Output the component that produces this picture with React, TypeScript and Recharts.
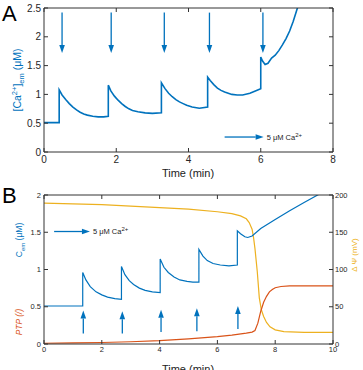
import React from "react";
import { ComposedChart, Line, XAxis, YAxis, ReferenceLine, Label } from "recharts";

const BLUE = "#0072BD";
const ORANGE = "#D95319";
const YELLOW = "#EDB120";
const AXIS = "#333333";
const FONT = "'Liberation Sans', Arial, sans-serif";

// panel A: measured extramitochondrial Ca2+ (uM) vs time (min)
const aTime = [
  0, 0.2, 0.42, 0.42, 0.5, 0.6, 0.7, 0.8, 0.9, 1.0, 1.1, 1.2, 1.35, 1.5, 1.65, 1.78,
  1.78, 1.85, 1.95, 2.05, 2.15, 2.25, 2.35, 2.45, 2.6, 2.8, 3.0, 3.25,
  3.25, 3.35, 3.45, 3.55, 3.65, 3.75, 3.85, 3.95, 4.1, 4.3, 4.53,
  4.53, 4.6, 4.7, 4.8, 4.9, 5.0, 5.1, 5.2, 5.35, 5.5, 5.7, 5.85, 6.0,
  6.0, 6.05, 6.12, 6.2, 6.3, 6.4, 6.5, 6.6, 6.7, 6.8, 6.9, 7.0, 7.1,
];
const aCa = [
  0.51, 0.51, 0.51, 1.08, 0.99, 0.91, 0.84, 0.78, 0.73, 0.69, 0.66, 0.64, 0.62, 0.61, 0.61, 0.62,
  1.16, 1.06, 0.97, 0.9, 0.84, 0.79, 0.75, 0.72, 0.7, 0.68, 0.67, 0.68,
  1.2, 1.1, 1.02, 0.96, 0.91, 0.87, 0.84, 0.81, 0.78, 0.76, 0.78,
  1.3, 1.24, 1.17, 1.11, 1.07, 1.04, 1.02, 1.0, 0.99, 0.99, 1.02, 1.06, 1.1,
  1.65, 1.58, 1.52, 1.54, 1.63, 1.68, 1.76, 1.86, 1.97, 2.1, 2.27, 2.47, 2.66,
];
const aTicksX = [0, 2, 4, 6, 8];
const aTicksY = [0, 0.5, 1, 1.5, 2, 2.5];
const aPulseT = [0.5, 1.86, 3.33, 4.58, 6.06];
const aPulseTop = 2.42;
const aPulseTip = 1.72;

// panel B: model
const bTime = [
  0, 1.34, 1.34, 1.45, 1.6, 1.8, 2.0, 2.2, 2.45, 2.68,
  2.68, 2.8, 2.95, 3.1, 3.3, 3.5, 3.75, 4.02,
  4.02, 4.15, 4.3, 4.5, 4.7, 4.95, 5.15, 5.36,
  5.36, 5.5, 5.65, 5.85, 6.1, 6.4, 6.69,
  6.69, 6.8, 6.95, 7.05, 7.2, 7.5, 8.0, 8.5, 9.0, 9.47, 10,
];
const bCem = [
  0.51, 0.51, 0.96, 0.86, 0.77, 0.7, 0.66, 0.63, 0.61, 0.6,
  1.04, 0.93, 0.85, 0.8, 0.75, 0.72, 0.7, 0.69,
  1.14, 1.03, 0.96, 0.9, 0.86, 0.84, 0.83, 0.83,
  1.27, 1.18, 1.12, 1.08, 1.06, 1.05, 1.06,
  1.52, 1.48, 1.44, 1.43, 1.45, 1.55, 1.67, 1.79, 1.9, 2.0, 2.11,
];
const ptpTime = [0, 1, 2, 3, 4, 5, 6, 6.5, 7.0, 7.2, 7.3, 7.4, 7.5, 7.6, 7.7, 7.8, 7.9, 8.0, 8.2, 8.5, 10];
const ptp = [0.01, 0.015, 0.02, 0.03, 0.045, 0.07, 0.1, 0.12, 0.145, 0.16, 0.18, 0.28, 0.44, 0.56, 0.64, 0.7, 0.73, 0.755, 0.772, 0.78, 0.78];
const psiTime = [0, 1, 2, 3, 4, 5, 6, 6.5, 6.8, 7.0, 7.1, 7.2, 7.25, 7.3, 7.38, 7.45, 7.52, 7.6, 7.7, 7.82, 8.0, 8.3, 9, 10];
const psi = [189, 188, 187, 185, 183, 181, 177.5, 175, 172, 168, 163, 154, 143, 128, 97, 62, 46, 37, 29, 23, 19, 16.5, 15.5, 15.5];
const bTicksX = [0, 2, 4, 6, 8, 10];
const bTicksL = [0, 0.5, 1, 1.5, 2];
const bTicksR = [0, 50, 100, 150, 200];
const bPulseT = [1.36, 2.71, 4.05, 5.29, 6.71];
const bPulseBase = [0.14, 0.14, 0.16, 0.17, 0.2];
const bPulseTip = [0.45, 0.44, 0.46, 0.48, 0.51];

const zip = (ts: number[], vs: number[]) => ts.map((t, i) => ({ t, v: vs[i] }));
const aData = zip(aTime, aCa);
const cemData = zip(bTime, bCem);
const ptpData = zip(ptpTime, ptp);
const psiData = zip(psiTime, psi);

// plot boxes (must match the chart margins / axis sizes below)
const boxA = { x: 44, y: 8, w: 289, h: 144 };
const boxB = { x: 44, y: 195, w: 289, h: 149 };

const arrow = (color: string, text?: string) => (p: any) => {
  const { x1, y1, x2, y2 } = p;
  const len = Math.hypot(x2 - x1, y2 - y1) || 1;
  const ux = (x2 - x1) / len;
  const uy = (y2 - y1) / len;
  const head = 8;
  const half = 2.8;
  const bx = x2 - ux * head;
  const by = y2 - uy * head;
  return (
    <g>
      <line x1={x1} y1={y1} x2={bx} y2={by} stroke={color} strokeWidth={1.3} />
      <polygon
        points={`${x2},${y2} ${bx - uy * half},${by + ux * half} ${bx + uy * half},${by - ux * half}`}
        fill={color}
      />
      {text && (
        <text x={x2 + 3} y={y2 + 2.5} fontSize={7.5} fill="#222" fontFamily={FONT}>
          {text}
          <tspan dy={-3} fontSize={6}>2+</tspan>
        </text>
      )}
    </g>
  );
};

const tickStyle = (size: number) => ({ fontSize: size, fill: "#262626", fontFamily: FONT });

// top/right edges of the box with inward ticks
function Frame() {
  return (
    <svg width={363} height={370} style={{ position: "absolute", left: 0, top: 0, pointerEvents: "none" }}>
      <g stroke={AXIS} strokeWidth={1} fill="none">
        <line x1={boxA.x} y1={boxA.y} x2={boxA.x + boxA.w} y2={boxA.y} />
        <line x1={boxA.x + boxA.w} y1={boxA.y} x2={boxA.x + boxA.w} y2={boxA.y + boxA.h} />
        {aTicksX.map((t) => {
          const x = boxA.x + (t / 8) * boxA.w;
          return <line key={"a" + t} x1={x} y1={boxA.y} x2={x} y2={boxA.y + 4} />;
        })}
        {aTicksY.map((v) => {
          const y = boxA.y + boxA.h - (v / 2.5) * boxA.h;
          return <line key={"r" + v} x1={boxA.x + boxA.w - 4} y1={y} x2={boxA.x + boxA.w} y2={y} />;
        })}
        <line x1={boxB.x} y1={boxB.y} x2={boxB.x + boxB.w} y2={boxB.y} />
        {bTicksX.map((t) => {
          const x = boxB.x + (t / 10) * boxB.w;
          return <line key={"b" + t} x1={x} y1={boxB.y} x2={x} y2={boxB.y + 4} />;
        })}
      </g>
    </svg>
  );
}

export default function App() {
  return (
    <div style={{ position: "absolute", left: 0, top: 0, width: 363, height: 370, background: "#fff", fontFamily: FONT }}>
      <div style={{ position: "absolute", left: 2, top: 3, fontSize: 22, lineHeight: "22px", fontFamily: FONT }}>A</div>
      <div style={{ position: "absolute", left: 2, top: 185, fontSize: 22, lineHeight: "22px", fontFamily: FONT }}>B</div>

      <div style={{ position: "absolute", left: 0, top: 0 }}>
        <ComposedChart width={363} height={185} margin={{ top: 8, right: 30, bottom: 0, left: 0 }}>
          <XAxis
            xAxisId="b"
            dataKey="t"
            type="number"
            domain={[0, 8]}
            ticks={aTicksX}
            allowDataOverflow
            height={33}
            tickSize={-4}
            tickMargin={8}
            stroke={AXIS}
            tick={tickStyle(10)}
          >
            <Label
              content={() => (
                <text x={188} y={177} textAnchor="middle" fontSize={11} fill="#222" fontFamily={FONT}>
                  Time (min)
                </text>
              )}
            />
          </XAxis>
          <YAxis
            yAxisId="l"
            type="number"
            domain={[0, 2.5]}
            ticks={aTicksY}
            allowDataOverflow
            width={44}
            tickSize={-4}
            tickMargin={7}
            stroke={AXIS}
            tick={tickStyle(10)}
          >
            <Label
              content={() => (
                <text transform="translate(21,80) rotate(-90)" textAnchor="middle" fontSize={10.5} fill={BLUE} fontFamily={FONT}>
                  [Ca<tspan dy={-4} fontSize={7.5}>2+</tspan>
                  <tspan dy={4}>]</tspan>
                  <tspan dy={3} fontSize={7.5}>em</tspan>
                  <tspan dy={-3}> (μM)</tspan>
                </text>
              )}
            />
          </YAxis>
          <Line
            xAxisId="b"
            yAxisId="l"
            data={aData}
            dataKey="v"
            type="linear"
            stroke={BLUE}
            strokeWidth={1.6}
            dot={false}
            isAnimationActive={false}
          />
          {aPulseT.map((t) => (
            <ReferenceLine
              key={t}
              xAxisId="b"
              yAxisId="l"
              segment={[{ x: t, y: aPulseTop }, { x: t, y: aPulseTip }]}
              shape={arrow(BLUE)}
            />
          ))}
          <ReferenceLine
            xAxisId="b"
            yAxisId="l"
            segment={[{ x: 5.0, y: 0.26 }, { x: 6.08, y: 0.26 }]}
            shape={arrow(BLUE, "5 μM Ca")}
          />
        </ComposedChart>
      </div>

      <div style={{ position: "absolute", left: 0, top: 185 }}>
        <ComposedChart width={363} height={185} margin={{ top: 10, right: 0, bottom: 0, left: 0 }}>
          <XAxis
            xAxisId="b"
            dataKey="t"
            type="number"
            domain={[0, 10]}
            ticks={bTicksX}
            allowDataOverflow
            height={26}
            tickSize={-4}
            tickMargin={7}
            stroke={AXIS}
            tick={tickStyle(7.5)}
          >
            <Label
              content={() => (
                <text x={188} y={188} textAnchor="middle" fontSize={11} fill="#222" fontFamily={FONT}>
                  Time (min)
                </text>
              )}
            />
          </XAxis>
          <YAxis
            yAxisId="l"
            type="number"
            domain={[0, 2]}
            ticks={bTicksL}
            allowDataOverflow
            width={44}
            tickSize={-4}
            tickMargin={7}
            stroke={AXIS}
            tick={tickStyle(7.5)}
          >
            <Label
              content={() => (
                <g fontFamily={FONT}>
                  <text transform="translate(22,55) rotate(-90)" textAnchor="middle" fontSize={8.5} fill={BLUE}>
                    C<tspan dy={2.5} fontSize={6}>em</tspan>
                    <tspan dy={-2.5}> (μM)</tspan>
                  </text>
                  <text transform="translate(22,137) rotate(-90)" textAnchor="middle" fontSize={8.5} fill={ORANGE} fontStyle="italic">
                    PTP (/)
                  </text>
                </g>
              )}
            />
          </YAxis>
          <YAxis
            yAxisId="r"
            orientation="right"
            type="number"
            domain={[0, 200]}
            ticks={bTicksR}
            allowDataOverflow
            width={30}
            tickSize={-4}
            tickMargin={6}
            stroke={AXIS}
            tick={tickStyle(7.5)}
          >
            <Label
              content={() => (
                <text transform="translate(357,70) rotate(-90)" textAnchor="middle" fontSize={8} fill={YELLOW} fontFamily={FONT}>
                  Δ Ψ (mV)
                </text>
              )}
            />
          </YAxis>
          <Line xAxisId="b" yAxisId="r" data={psiData} dataKey="v" type="linear" stroke={YELLOW} strokeWidth={1.2} dot={false} isAnimationActive={false} />
          <Line xAxisId="b" yAxisId="l" data={ptpData} dataKey="v" type="linear" stroke={ORANGE} strokeWidth={1.2} dot={false} isAnimationActive={false} />
          <Line xAxisId="b" yAxisId="l" data={cemData} dataKey="v" type="linear" stroke={BLUE} strokeWidth={1.2} dot={false} isAnimationActive={false} />
          {bPulseT.map((t, i) => (
            <ReferenceLine
              key={t}
              xAxisId="b"
              yAxisId="l"
              segment={[{ x: t, y: bPulseBase[i] }, { x: t, y: bPulseTip[i] }]}
              shape={arrow(BLUE)}
            />
          ))}
          <ReferenceLine
            xAxisId="b"
            yAxisId="l"
            segment={[{ x: 0.35, y: 1.51 }, { x: 1.59, y: 1.51 }]}
            shape={arrow(BLUE, "5 μM Ca")}
          />
        </ComposedChart>
      </div>

      <Frame />
    </div>
  );
}
